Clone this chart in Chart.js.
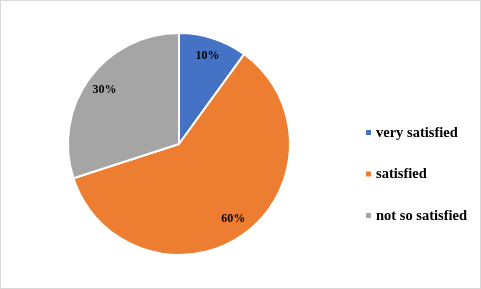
<!DOCTYPE html>
<html>
<head>
<meta charset="utf-8">
<script src="https://cdn.jsdelivr.net/npm/chart.js@4"></script>
<style>
  html, body { margin: 0; padding: 0; background: #fff; }
  #wrap { width: 481px; height: 289px; box-sizing: border-box; border: 1px solid #d9d9d9; }
  #myChart { display: block; }
</style>
</head>
<body>
<div id="wrap"><canvas id="myChart" width="479" height="287"></canvas></div>
<script>
var categories = ['very satisfied', 'satisfied', 'not so satisfied'];
var shares = [10, 60, 30];
var colors = ['#4472C4', '#ED7D31', '#A5A5A5'];

// percent labels inside the slices
var sliceLabels = {
  id: 'sliceLabels',
  afterDatasetsDraw: function(chart) {
    var ctx = chart.ctx;
    var meta = chart.getDatasetMeta(0);
    ctx.save();
    ctx.font = 'bold 12px "Liberation Serif", "Times New Roman", serif';
    ctx.fillStyle = '#000';
    ctx.textAlign = 'center';
    ctx.textBaseline = 'middle';
    meta.data.forEach(function(arc, i) {
      var p = arc.getProps(['x', 'y', 'startAngle', 'endAngle', 'outerRadius'], true);
      var mid = (p.startAngle + p.endAngle) / 2;
      var r = p.outerRadius * 0.83;
      ctx.fillText(shares[i] + '%', p.x + Math.cos(mid) * r, p.y + Math.sin(mid) * r);
    });
    ctx.restore();
  }
};

// legend on the right, drawn from the chart data
var sideLegend = {
  id: 'sideLegend',
  afterDraw: function(chart) {
    var ctx = chart.ctx;
    var ds = chart.data.datasets[0];
    var x = 365, y0 = 132, gap = 41.5;
    ctx.save();
    ctx.font = 'bold 14.5px "Liberation Serif", "Times New Roman", serif';
    ctx.textBaseline = 'middle';
    ctx.textAlign = 'left';
    chart.data.labels.forEach(function(lab, i) {
      var y = y0 + i * gap;
      ctx.fillStyle = ds.backgroundColor[i];
      ctx.fillRect(x, y - 3, 5, 5);
      ctx.fillStyle = '#000';
      ctx.fillText(lab, x + 10, y);
    });
    ctx.restore();
  }
};

var ctx = document.getElementById('myChart');
var myChart = new Chart(ctx, {
  type: 'pie',
  data: {
    labels: categories,
    datasets: [{
      data: shares,
      backgroundColor: colors,
      borderColor: '#fff',
      borderWidth: 2
    }]
  },
  options: {
    responsive: false,
    animation: false,
    layout: { padding: { left: 66, right: 189, top: 31, bottom: 32 } },
    plugins: {
      legend: { display: false },
      tooltip: { enabled: false }
    }
  },
  plugins: [sliceLabels, sideLegend]
});
</script>
</body>
</html>
